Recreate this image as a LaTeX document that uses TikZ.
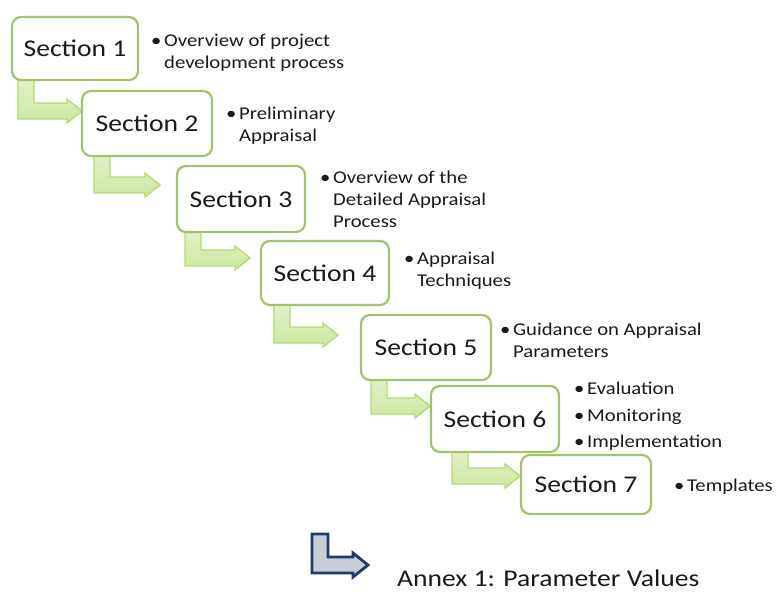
\documentclass[tikz,border=0pt]{standalone}
\usepackage{fontspec}
\setmainfont{Carlito}[FakeStretch=1.15]
\usetikzlibrary{calc}
\definecolor{boxgreen}{HTML}{A2C36C}
\definecolor{arrfillA}{HTML}{E4F2CC}
\definecolor{arrfillB}{HTML}{CDE7A0}
\definecolor{arrline}{HTML}{B4DA78}
\definecolor{annexfill}{HTML}{C9CDD8}
\definecolor{annexline}{HTML}{1F3A6B}
\definecolor{txt}{HTML}{1A1A1A}
\tikzset{
  secbox/.style={draw=boxgreen,line width=2.2pt,rounded corners=9pt,fill=white,
    font=\fontsize{24}{28}\selectfont,text=txt,inner sep=0pt},
  bul/.style={anchor=north west,font=\fontsize{18}{22}\selectfont,text=txt,inner sep=0pt,align=left},
  greenarr/.style={draw=arrline,line width=1.4pt,top color=arrfillA,bottom color=arrfillB,line join=miter},
  bluearr/.style={draw=annexline,line width=2.8pt,fill=annexfill,line join=miter},
}
% #2 stem left x, #3 stem top y, #4 bar bottom y, #5 tip x
\newcommand\bentarrow[5][greenarr]{%
  \path[#1] (#2,#3) -- ++(16,0) -- (#2+16,#4-16) -- (#5-15,#4-16) -- (#5-15,#4-8-12)
    -- (#5,#4-8) -- (#5-15,#4-8+12) -- (#5-15,#4) -- (#2,#4) -- cycle;}
\newcommand\bl[1]{\makebox[14pt][l]{\hspace{1pt}\textbullet}#1}
\newcommand\ind{\hspace*{14pt}}
\begin{document}
\begin{tikzpicture}[x=1pt,y=-1pt]
\useasboundingbox (0,0) rectangle (779,596);
% arrows (behind boxes)
\bentarrow{18}{75}{119}{82}
\bentarrow{94}{150}{193}{160}
\bentarrow{185}{226}{266}{250}
\bentarrow{274}{300}{343}{338}
\bentarrow{371}{375}{414}{430}
\bentarrow{452}{447}{484}{520}
% boxes
\node[secbox,minimum width=126pt,minimum height=63pt] (s1) at (75,48.5) {Section 1};
\node[secbox,minimum width=130pt,minimum height=65pt] (s2) at (147,123.5) {Section 2};
\node[secbox,minimum width=128pt,minimum height=66pt] (s3) at (241,199) {Section 3};
\node[secbox,minimum width=128pt,minimum height=64pt] (s4) at (325,273) {Section 4};
\node[secbox,minimum width=130pt,minimum height=65pt] (s5) at (426,347.5) {Section 5};
\node[secbox,minimum width=128pt,minimum height=66pt] (s6) at (495,419) {Section 6};
\node[secbox,minimum width=130pt,minimum height=59pt] (s7) at (586,484.5) {Section 7};
% bullets
\node[bul] (t1) at (150,34) {\bl{Overview of project}\\\ind development process};
\node[bul] (t2) at (225,107) {\bl{Preliminary}\\\ind Appraisal};
\node[bul] (t3) at (319,171) {\bl{Overview of the}\\\ind Detailed Appraisal\\\ind Process};
\node[bul] (t4) at (403,252) {\bl{Appraisal}\\\ind Techniques};
\node[bul] (t5) at (499,323) {\bl{Guidance on Appraisal}\\\ind Parameters};
\node[bul,font=\fontsize{18}{26.5}\selectfont] (t6) at (573,382) {\bl{Evaluation}\\\bl{Monitoring}\\\bl{Implementation}};
\node[bul] (t7) at (673,479) {\bl{Templates}};
% annex
\bentarrow[bluearr]{312}{534}{573}{368}
\node[anchor=west,font=\fontsize{24}{28}\selectfont,text=txt,inner sep=0pt] (annex) at (397,578) {Annex 1: Parameter Values};
\end{tikzpicture}
\end{document}
